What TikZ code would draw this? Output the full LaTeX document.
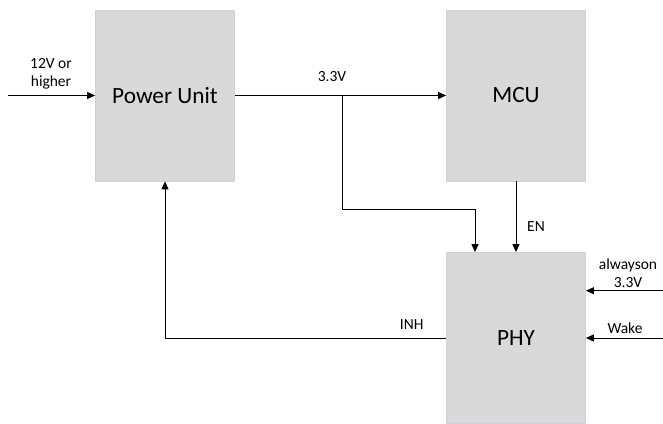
\documentclass[tikz,border=0pt]{standalone}
\usepackage{fontspec}
\setmainfont{Carlito}
\usetikzlibrary{arrows.meta}
\definecolor{boxgray}{RGB}{217,217,217}
\definecolor{boxedge}{RGB}{205,210,218}
\begin{document}
\begin{tikzpicture}[x=1pt,y=-1pt,
  blk/.style={rectangle,fill=boxgray,draw=boxedge,line width=0.8pt,minimum width=139pt,minimum height=171pt,inner sep=0pt,font=\fontsize{23.3}{28}\selectfont},
  lbl/.style={inner sep=0pt,align=center,font=\fontsize{15.5}{18.5}\selectfont},
  wire/.style={line width=1pt,black},
  arr/.style={wire,-{Triangle[length=8pt,width=7pt]}}]
\useasboundingbox (0,0) rectangle (663,423);
\node[blk] (pu) at (165,95.5) {Power Unit};
\node[blk] (mcu) at (516,95.5) {MCU};
\node[blk] (phy) at (516,338) {PHY};
\coordinate (in) at (8,95.5);
\coordinate (br) at (342.5,95.5);
\coordinate (bend) at (342.5,209.3);
\coordinate (ao) at (663,290.7);
\coordinate (wk) at (663,338);
\draw[arr] (in) -- (pu.west);
\node[lbl] (lin) at (51,74) {12V or\\higher};
\draw[arr] (pu.east) -- (mcu.west);
\node[lbl] (l33) at (332,77) {3.3V};
\draw[arr] (br) -- (bend) -| ([xshift=-41pt]phy.north);
\draw[arr] (mcu.south) -- (phy.north);
\node[lbl] (len) at (536,227) {EN};
\draw[arr] (phy.west) -| (pu.south);
\node[lbl] (linh) at (411.7,325) {INH};
\draw[arr] (ao) -- (phy.east |- ao);
\node[lbl] (lao) at (628,273) {alwayson\\3.3V};
\draw[arr] (wk) -- (phy.east);
\node[lbl] (lwk) at (625,328) {Wake};
\end{tikzpicture}
\end{document}
